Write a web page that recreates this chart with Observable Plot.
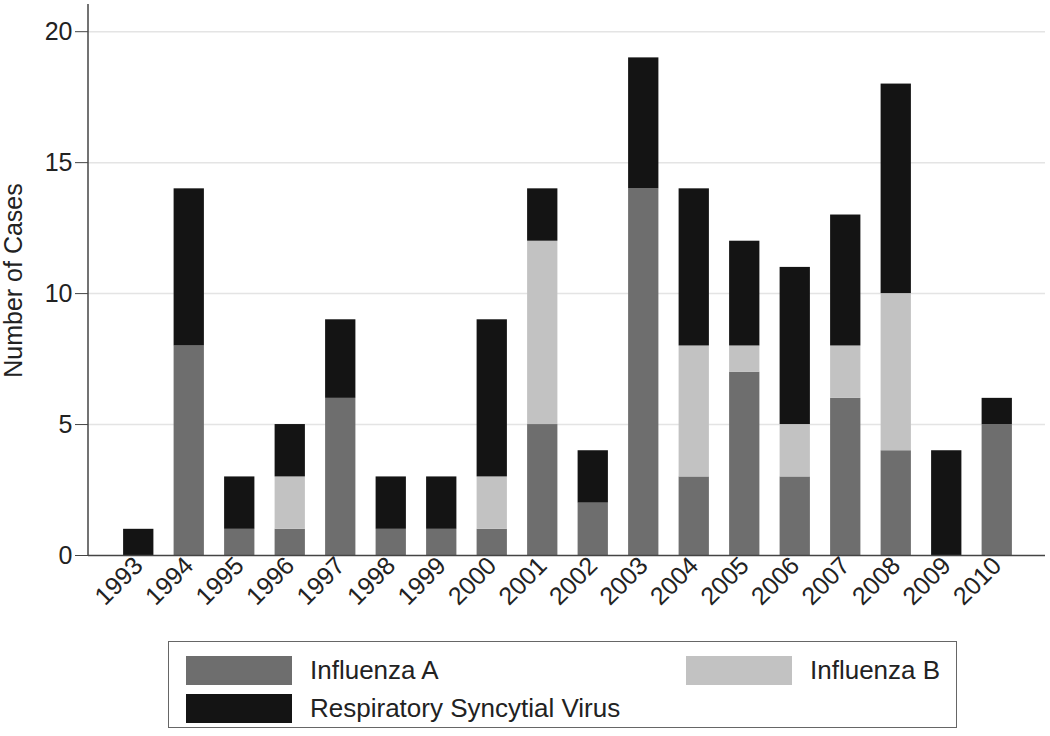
<!DOCTYPE html>
<html>
<head>
<meta charset="utf-8">
<script src="https://cdn.jsdelivr.net/npm/d3@7"></script>
<script src="https://cdn.jsdelivr.net/npm/@observablehq/plot@0.6"></script>
<style>
  body { margin: 0; background: #fff; font-family: "Liberation Sans", Arial, sans-serif; }
  #legend {
    position: absolute; left: 168px; top: 641px; width: 789px; height: 87px;
    border: 1.5px solid #666; box-sizing: border-box; background: #fff;
  }
  .item { position: absolute; display: flex; align-items: center; font-size: 26px; color: #222; }
  .sw { width: 106px; height: 29px; margin-right: 18px; }
</style>
</head>
<body>
<div id="chart"></div>
<div id="legend"></div>
<script>
const years = ["1993","1994","1995","1996","1997","1998","1999","2000","2001","2002","2003","2004","2005","2006","2007","2008","2009","2010"];
const influenzaA = [0, 8, 1, 1, 6, 1, 1, 1, 5, 2, 14, 3, 7, 3, 6, 4, 0, 5];
const influenzaB = [0, 0, 0, 2, 0, 0, 0, 2, 7, 0, 0, 5, 1, 2, 2, 6, 0, 0];
const rsv        = [1, 6, 2, 2, 3, 2, 2, 6, 2, 2, 5, 6, 4, 6, 5, 8, 4, 1];
const types = ["Influenza A", "Influenza B", "Respiratory Syncytial Virus"];
const colors = ["#6e6e6e", "#c2c2c2", "#141414"];
const yTicks = [0, 5, 10, 15, 20];

const series = [influenzaA, influenzaB, rsv];
const data = [];
years.forEach((yr, i) => {
  types.forEach((t, j) => data.push({year: yr, type: t, value: series[j][i]}));
});

const plot = Plot.plot({
  width: 1050,
  height: 630,
  marginLeft: 88,
  marginRight: 5,
  marginTop: 5,
  marginBottom: 75,
  style: {fontFamily: "Liberation Sans, Arial, sans-serif", background: "#fff"},
  x: {domain: years, round: false, paddingInner: 0.4, paddingOuter: 0.2, insetLeft: 25, insetRight: 23, label: null},
  y: {domain: [0, 21], label: null},
  color: {domain: types, range: colors},
  marks: [
    Plot.gridY(yTicks.filter(d => d > 0), {stroke: "#e4e4e4", strokeOpacity: 1, strokeWidth: 1.5}),
    Plot.barY(data, {x: "year", y: "value", fill: "type", order: types}),
    Plot.ruleY([0], {stroke: "#444", strokeWidth: 1.5}),
    Plot.axisY(yTicks, {tickSize: 13, tickPadding: 3, fontSize: 25, stroke: "#444", fill: "#222"}),
    Plot.axisY({ticks: [], tickSize: 0, fontSize: 25, fill: "#222",
      label: "Number of Cases", labelAnchor: "center", labelArrow: false, labelOffset: 84}),
    Plot.axisX({tickRotate: -45, tickSize: 0, tickPadding: 6, fontSize: 25, fill: "#222", label: null})
  ]
});

d3.select(plot).append("line")
  .attr("x1", 88).attr("x2", 88).attr("y1", 4).attr("y2", 555)
  .attr("stroke", "#444").attr("stroke-width", 1.5);

document.getElementById("chart").appendChild(plot);

const legend = d3.select("#legend");
const pos = [{left: 17, top: 13}, {left: 517, top: 13}, {left: 17, top: 51}];
types.forEach((t, i) => {
  const it = legend.append("div").attr("class", "item")
    .style("left", pos[i].left + "px").style("top", pos[i].top + "px");
  it.append("div").attr("class", "sw").style("background", colors[i]);
  it.append("span").text(t);
});
</script>
</body>
</html>
